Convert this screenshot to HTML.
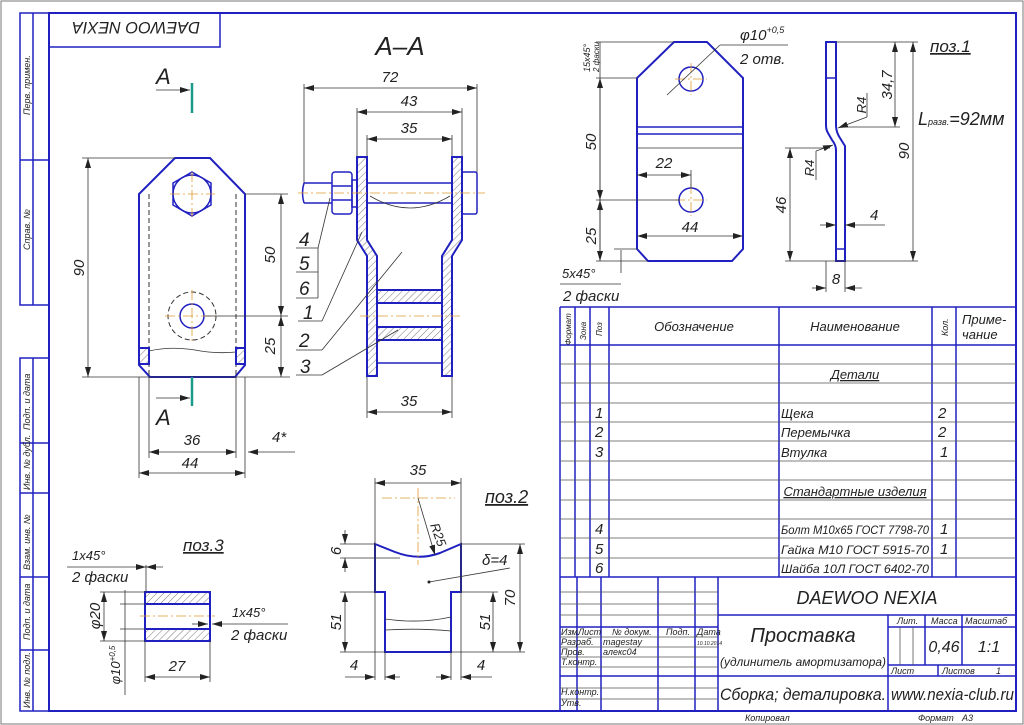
<!DOCTYPE html>
<html><head><meta charset="utf-8"><style>
html,body{margin:0;padding:0;background:#fff}
svg{display:block}
text{font-family:"Liberation Sans","DejaVu Sans",sans-serif;font-style:italic;fill:#222}
.o{stroke:#2020c0;stroke-width:2;fill:none}
.f{stroke:#2020c0;stroke-width:1.5;fill:none}
.d{stroke:#333;stroke-width:0.8;fill:none}
.c{stroke:#e09a30;stroke-width:0.8;fill:none;stroke-dasharray:10 3 2 3}
.h{stroke:#2020c0;stroke-width:2;fill:url(#hat)}
.dash{stroke:#333;stroke-width:1;fill:none;stroke-dasharray:5 3}
</style></head><body>
<svg width="1024" height="725" viewBox="0 0 1024 725" xmlns="http://www.w3.org/2000/svg">
<defs>
<pattern id="hat" width="5" height="5" patternUnits="userSpaceOnUse" patternTransform="rotate(45)"><line x1="0" y1="0" x2="0" y2="5" stroke="#555" stroke-width="0.8"/></pattern>
<marker id="a" viewBox="0 0 10 6" refX="10" refY="3" markerWidth="10" markerHeight="6" orient="auto-start-reverse" markerUnits="userSpaceOnUse"><path d="M0,0 L10,3 L0,6 z" fill="#222"/></marker>
</defs>
<rect x="1" y="1" width="1022" height="723" fill="#fff" stroke="#777" stroke-width="1"/>
<rect x="49" y="13" width="967" height="698" class="o"/>
<g class="f">
<rect x="20" y="13" width="29" height="292"/><line x1="33" y1="13" x2="33" y2="305"/><line x1="20" y1="160" x2="49" y2="160"/>
<rect x="20" y="358" width="29" height="353"/><line x1="33" y1="358" x2="33" y2="711"/>
<line x1="20" y1="443" x2="49" y2="443"/><line x1="20" y1="493" x2="49" y2="493"/><line x1="20" y1="577" x2="49" y2="577"/><line x1="20" y1="650" x2="49" y2="650"/>
<rect x="49" y="13" width="171" height="34"/>
</g>
<g font-size="9">
<text transform="translate(30,115) rotate(-90)">Перв. примен.</text>
<text transform="translate(30,250) rotate(-90)">Справ. №</text>
<text transform="translate(30,430) rotate(-90)">Подп. и дата</text>
<text transform="translate(30,490) rotate(-90)">Инв. № дубл.</text>
<text transform="translate(30,570) rotate(-90)">Взам. инв. №</text>
<text transform="translate(30,640) rotate(-90)">Подп. и дата</text>
<text transform="translate(30,708) rotate(-90)">Инв. № подл.</text>
</g>
<text transform="translate(200,22) rotate(180)" font-size="17" text-anchor="start" textLength="128" lengthAdjust="spacingAndGlyphs">DAEWOO NEXIA</text>

<path class="o" d="M175,158 L210,158 L245,194 L245,365 L235,377 L150,377 L139,365 L139,194 Z"/>
<polygon class="f" points="192,172 211,183 211,205 192,216 173,205 173,183"/>
<circle class="f" cx="192" cy="194" r="19"/>
<circle class="f" cx="192" cy="316" r="12"/>
<circle class="dash" cx="192" cy="316" r="24"/>
<line class="dash" x1="149" y1="194" x2="149" y2="377"/><line class="dash" x1="236" y1="194" x2="236" y2="377"/>
<path class="d" d="M149,351 Q170,346 195,350 Q215,354 236,352"/>
<rect x="139" y="348" width="10" height="16" class="h" stroke-width="0.8"/><rect x="236" y="348" width="9" height="16" class="h" stroke-width="0.8"/>
<line class="c" x1="165" y1="316" x2="220" y2="316"/><line class="c" x1="192" y1="290" x2="192" y2="343"/>
<line class="c" x1="170" y1="194" x2="215" y2="194"/><line class="c" x1="192" y1="172" x2="192" y2="216"/>
<g class="d">
<line x1="82" y1="158" x2="175" y2="158"/><line x1="82" y1="377" x2="290" y2="377"/>
<line x1="88" y1="158" x2="88" y2="377" marker-start="url(#a)" marker-end="url(#a)"/>
<line x1="245" y1="194" x2="288" y2="194"/><line x1="205" y1="316" x2="288" y2="316"/>
<line x1="281" y1="194" x2="281" y2="316" marker-start="url(#a)" marker-end="url(#a)"/>
<line x1="281" y1="316" x2="281" y2="377" marker-start="url(#a)" marker-end="url(#a)"/>
<line x1="149" y1="377" x2="149" y2="458"/><line x1="236" y1="377" x2="236" y2="458"/>
<line x1="139" y1="377" x2="139" y2="478"/><line x1="245" y1="377" x2="245" y2="478"/>
<line x1="149" y1="452" x2="236" y2="452" marker-start="url(#a)" marker-end="url(#a)"/>
<line x1="139" y1="473" x2="245" y2="473" marker-start="url(#a)" marker-end="url(#a)"/>
<line x1="248" y1="452" x2="295" y2="452" marker-start="url(#a)"/>
<line x1="156" y1="90" x2="190" y2="90" marker-end="url(#a)"/><line x1="156" y1="398" x2="190" y2="398" marker-end="url(#a)"/>
</g>
<line x1="192" y1="83" x2="192" y2="113" stroke="#1a9a8a" stroke-width="2.5"/>
<line x1="192" y1="377" x2="192" y2="406" stroke="#1a9a8a" stroke-width="2.5"/>
<text x="156" y="84" font-size="22" font-style="normal">A</text>
<text x="156" y="425" font-size="22" font-style="normal">A</text>
<g font-size="15">
<text transform="translate(84,268) rotate(-90)" text-anchor="middle">90</text>
<text transform="translate(275,255) rotate(-90)" text-anchor="middle">50</text>
<text transform="translate(275,346) rotate(-90)" text-anchor="middle">25</text>
<text x="192" y="445" text-anchor="middle">36</text>
<text x="190" y="468" text-anchor="middle">44</text>
<text x="272" y="442">4*</text>
</g>

<text x="400" y="55" font-size="26" font-style="normal" text-anchor="middle">A–A</text>
<g class="d">
<line x1="304" y1="84" x2="304" y2="185"/><line x1="477" y1="84" x2="477" y2="185"/>
<line x1="304" y1="88" x2="477" y2="88" marker-start="url(#a)" marker-end="url(#a)"/>
<line x1="357" y1="108" x2="357" y2="157"/><line x1="462" y1="108" x2="462" y2="157"/>
<line x1="357" y1="112" x2="462" y2="112" marker-start="url(#a)" marker-end="url(#a)"/>
<line x1="367" y1="135" x2="367" y2="157"/><line x1="452" y1="135" x2="452" y2="157"/>
<line x1="367" y1="139" x2="452" y2="139" marker-start="url(#a)" marker-end="url(#a)"/>
<line x1="367" y1="376" x2="367" y2="418"/><line x1="452" y1="376" x2="452" y2="418"/>
<line x1="367" y1="412" x2="452" y2="412" marker-start="url(#a)" marker-end="url(#a)"/>
</g>
<g font-size="15" text-anchor="middle"><text x="390" y="82">72</text><text x="409" y="106">43</text><text x="409" y="133">35</text><text x="409" y="406">35</text></g>
<path class="h" d="M357,157 L367,157 L367,240 L377,256 L377,376 L367,376 L367,256 L357,240 Z"/>
<path class="h" d="M452,157 L462,157 L462,240 L452,256 L452,376 L442,376 L442,256 L452,240 Z"/>
<rect class="h" x="377" y="290" width="65" height="13"/>
<rect class="h" x="377" y="327" width="65" height="13"/>
<line class="f" x1="377" y1="363" x2="442" y2="363"/>
<path class="f" d="M304,183 L332,183 M304,203 L332,203 M304,183 Q301,193 304,203"/>
<rect class="f" x="332" y="172" width="20" height="42" rx="3"/>
<line class="f" x1="332" y1="186" x2="352" y2="186"/><line class="f" x1="332" y1="200" x2="352" y2="200"/>
<rect class="f" x="352" y="180" width="5" height="27"/>
<line class="f" x1="367" y1="183" x2="452" y2="183"/><line class="f" x1="367" y1="203" x2="452" y2="203"/>
<rect class="f" x="462" y="172" width="15" height="42" rx="2"/>
<path class="d" d="M370,196 Q410,220 450,196"/>
<line class="c" x1="298" y1="193" x2="485" y2="193"/><line class="c" x1="360" y1="316" x2="460" y2="316"/>
<g class="d">
<line x1="296" y1="248" x2="318" y2="248"/><line x1="296" y1="272" x2="318" y2="272"/><line x1="296" y1="298" x2="318" y2="298"/>
<line x1="318" y1="298" x2="318" y2="248"/><line x1="318" y1="248" x2="330" y2="198"/>
<line x1="298" y1="321" x2="322" y2="321"/><line x1="322" y1="321" x2="362" y2="232"/>
<line x1="296" y1="350" x2="322" y2="350"/><line x1="322" y1="350" x2="402" y2="252"/>
<line x1="296" y1="375" x2="322" y2="375"/><line x1="322" y1="375" x2="398" y2="330"/>
</g>
<g font-size="19"><text x="299" y="246">4</text><text x="299" y="270">5</text><text x="299" y="295">6</text><text x="303" y="319">1</text><text x="299" y="347">2</text><text x="300" y="373">3</text></g>

<path class="o" d="M674,42 L707,42 L743,78 L743,249 L732,261 L648,261 L637,249 L637,78 Z"/>
<circle class="f" cx="691" cy="79" r="12"/><circle class="f" cx="691" cy="200" r="12"/>
<line class="f" x1="637" y1="127" x2="743" y2="127"/><line class="f" x1="637" y1="134" x2="743" y2="134"/><line class="d" x1="637" y1="148" x2="743" y2="148"/>
<line class="c" x1="675" y1="79" x2="707" y2="79"/><line class="c" x1="691" y1="63" x2="691" y2="95"/>
<line class="c" x1="675" y1="200" x2="707" y2="200"/><line class="c" x1="691" y1="184" x2="691" y2="216"/>
<g class="d">
<line x1="596" y1="42" x2="674" y2="42"/><line x1="596" y1="78" x2="637" y2="78"/><line x1="596" y1="200" x2="680" y2="200"/><line x1="596" y1="261" x2="648" y2="261"/>
<line x1="600" y1="42" x2="600" y2="261"/>
<line x1="600" y1="78" x2="600" y2="200" marker-start="url(#a)" marker-end="url(#a)"/>
<line x1="600" y1="200" x2="600" y2="261" marker-start="url(#a)" marker-end="url(#a)"/>
<line x1="637" y1="175" x2="691" y2="175" marker-start="url(#a)" marker-end="url(#a)"/><line x1="691" y1="170" x2="691" y2="188"/>
<line x1="637" y1="236" x2="743" y2="236" marker-start="url(#a)" marker-end="url(#a)"/>
<line x1="667" y1="95" x2="720" y2="45"/><line x1="720" y1="45" x2="788" y2="45"/>
<line x1="621" y1="250" x2="621" y2="273"/><line x1="614" y1="249" x2="637" y2="249"/><line x1="560" y1="284" x2="621" y2="284"/>
</g>
<g font-size="15">
<text x="740" y="40">φ10<tspan font-size="9" dy="-7">+0,5</tspan></text>
<text x="740" y="64">2 отв.</text>
<text transform="translate(596,142) rotate(-90)" text-anchor="middle">50</text>
<text transform="translate(596,236) rotate(-90)" text-anchor="middle">25</text>
<text x="664" y="168" text-anchor="middle">22</text>
<text x="690" y="232" text-anchor="middle">44</text>
<text x="562" y="278" font-size="13">5x45°</text>
<text x="563" y="301">2 фаски</text>
<text transform="translate(590,72) rotate(-90)" font-size="9">15x45°</text>
<text transform="translate(599,72) rotate(-90)" font-size="8">2 фаски</text>
</g>
<path class="o" d="M826,42 L836,42 L836,125 Q836,132 840,138 L845,146 L845,261 L836,261 L836,150 Q836,145 832,140 L828,133 Q826,130 826,125 Z"/>
<line class="f" x1="826" y1="78" x2="836" y2="78"/><line class="f" x1="836" y1="249" x2="845" y2="249"/>
<g class="d">
<line x1="836" y1="42" x2="918" y2="42"/><line x1="840" y1="127" x2="900" y2="127"/><line x1="785" y1="148" x2="830" y2="148"/><line x1="785" y1="261" x2="918" y2="261"/>
<line x1="895" y1="42" x2="895" y2="127" marker-start="url(#a)" marker-end="url(#a)"/>
<line x1="913" y1="42" x2="913" y2="261" marker-start="url(#a)" marker-end="url(#a)"/>
<line x1="790" y1="148" x2="790" y2="261" marker-start="url(#a)" marker-end="url(#a)"/>
<line x1="820" y1="225" x2="836" y2="225" marker-end="url(#a)"/><line x1="845" y1="225" x2="885" y2="225" marker-start="url(#a)"/>
<line x1="826" y1="261" x2="826" y2="292"/><line x1="845" y1="261" x2="845" y2="292"/>
<line x1="812" y1="288" x2="826" y2="288" marker-end="url(#a)"/><line x1="845" y1="288" x2="862" y2="288" marker-start="url(#a)"/>
<line x1="867" y1="93" x2="867" y2="117"/><line x1="867" y1="117" x2="838" y2="128" marker-end="url(#a)"/>
<line x1="816" y1="180" x2="816" y2="151"/><line x1="816" y1="151" x2="833" y2="145" marker-end="url(#a)"/>
</g>
<g font-size="15">
<text transform="translate(892,85) rotate(-90)" text-anchor="middle">34,7</text>
<text transform="translate(909,151) rotate(-90)" text-anchor="middle">90</text>
<text transform="translate(786,205) rotate(-90)" text-anchor="middle">46</text>
<text transform="translate(866,105) rotate(-90)" text-anchor="middle" font-size="13">R4</text>
<text transform="translate(814,168) rotate(-90)" text-anchor="middle" font-size="13">R4</text>
<text x="870" y="220">4</text>
<text x="836" y="284" text-anchor="middle">8</text>
<text x="930" y="52" font-size="17" text-decoration="underline">поз.1</text>
<text x="918" y="125" font-size="18">L<tspan font-size="9">разв.</tspan>=92мм</text>
</g>

<text x="183" y="551" font-size="17" text-decoration="underline">поз.3</text>
<rect class="h" x="145" y="592" width="65" height="12"/><rect class="h" x="145" y="629" width="65" height="12"/>
<rect class="o" x="145" y="592" width="65" height="49" rx="2"/>
<line class="c" x1="140" y1="616" x2="215" y2="616"/>
<g class="d">
<line x1="100" y1="592" x2="145" y2="592"/><line x1="100" y1="641" x2="145" y2="641"/>
<line x1="104" y1="592" x2="104" y2="641" marker-start="url(#a)" marker-end="url(#a)"/>
<line x1="120" y1="604" x2="145" y2="604"/><line x1="120" y1="629" x2="145" y2="629"/>
<line x1="125" y1="590" x2="125" y2="695"/>
<line x1="145" y1="641" x2="145" y2="682"/><line x1="210" y1="641" x2="210" y2="682"/>
<line x1="145" y1="677" x2="210" y2="677" marker-start="url(#a)" marker-end="url(#a)"/>
<line x1="146" y1="565" x2="146" y2="592"/>
<line x1="67" y1="567" x2="146" y2="567" marker-end="url(#a)"/><line x1="146" y1="567" x2="163" y2="567" marker-start="url(#a)"/>
<line x1="192" y1="624" x2="208" y2="624" marker-end="url(#a)"/><line x1="212" y1="624" x2="288" y2="624" marker-start="url(#a)"/>
</g>
<g font-size="15">
<text x="72" y="560" font-size="13">1x45°</text><text x="72" y="582">2 фаски</text>
<text x="232" y="617" font-size="13">1x45°</text><text x="231" y="640">2 фаски</text>
<text transform="translate(100,616) rotate(-90)" text-anchor="middle">φ20</text>
<text transform="translate(120,665) rotate(-90)" text-anchor="middle" font-size="13">φ10<tspan font-size="8" dy="-5">+0,5</tspan></text>
<text x="177" y="671" text-anchor="middle">27</text>
</g>

<path class="o" d="M375,544 Q385,548 395,552 Q418,561 440,553 L461,544 L461,592 L451,592 L451,652 L385,652 L385,592 L375,592 Z"/>
<path class="d" d="M385,619 Q420,624 451,617 M385,630 Q420,628 451,631"/>
<line class="c" x1="382" y1="498" x2="455" y2="498"/><line class="c" x1="418" y1="488" x2="418" y2="565"/>
<g class="d">
<line x1="375" y1="478" x2="375" y2="680"/><line x1="461" y1="478" x2="461" y2="680"/>
<line x1="375" y1="483" x2="461" y2="483" marker-start="url(#a)" marker-end="url(#a)"/>
<line x1="418" y1="498" x2="435" y2="555" marker-end="url(#a)"/>
<line x1="340" y1="544" x2="375" y2="544"/><line x1="340" y1="558" x2="400" y2="558"/>
<line x1="345" y1="530" x2="345" y2="544" marker-end="url(#a)"/><line x1="345" y1="558" x2="345" y2="572" marker-start="url(#a)"/>
<line x1="340" y1="592" x2="375" y2="592"/><line x1="340" y1="652" x2="385" y2="652"/>
<line x1="345" y1="592" x2="345" y2="652" marker-start="url(#a)" marker-end="url(#a)"/>
<line x1="461" y1="544" x2="525" y2="544"/><line x1="451" y1="652" x2="525" y2="652"/><line x1="461" y1="592" x2="498" y2="592"/>
<line x1="520" y1="544" x2="520" y2="652" marker-start="url(#a)" marker-end="url(#a)"/>
<line x1="493" y1="592" x2="493" y2="652" marker-start="url(#a)" marker-end="url(#a)"/>
<line x1="385" y1="652" x2="385" y2="680"/><line x1="451" y1="652" x2="451" y2="680"/>
<line x1="345" y1="677" x2="375" y2="677" marker-end="url(#a)"/><line x1="385" y1="677" x2="400" y2="677" marker-start="url(#a)"/>
<line x1="436" y1="677" x2="451" y2="677" marker-end="url(#a)"/><line x1="461" y1="677" x2="492" y2="677" marker-start="url(#a)"/>
<line x1="429" y1="582" x2="510" y2="568"/>
</g>
<circle cx="429" cy="582" r="1.5" fill="#222"/>
<g font-size="15">
<text x="418" y="475" text-anchor="middle">35</text>
<text x="485" y="503" font-size="18" text-decoration="underline">поз.2</text>
<text transform="translate(430,525) rotate(70)" font-size="13">R25</text>
<text x="482" y="565">δ=4</text>
<text transform="translate(341,551) rotate(-90)" text-anchor="middle">6</text>
<text transform="translate(341,622) rotate(-90)" text-anchor="middle">51</text>
<text transform="translate(490,622) rotate(-90)" text-anchor="middle">51</text>
<text transform="translate(515,598) rotate(-90)" text-anchor="middle">70</text>
<text x="354" y="670" text-anchor="middle">4</text>
<text x="481" y="670" text-anchor="middle">4</text>
</g>

<g class="f">
<line x1="560" y1="307" x2="1016" y2="307"/><line x1="560" y1="345" x2="1016" y2="345"/>
<line x1="560" y1="307" x2="560" y2="711"/>
<line x1="575" y1="307" x2="575" y2="577"/><line x1="590" y1="307" x2="590" y2="577"/><line x1="609" y1="307" x2="609" y2="577"/>
<line x1="779" y1="307" x2="779" y2="577"/><line x1="932" y1="307" x2="932" y2="577"/><line x1="956" y1="307" x2="956" y2="577"/>
<line x1="560" y1="577" x2="1016" y2="577"/>
</g>
<g stroke="#555" stroke-width="0.8">
<line x1="560" y1="364" x2="1016" y2="364"/><line x1="560" y1="383" x2="1016" y2="383"/><line x1="560" y1="403" x2="1016" y2="403"/>
<line x1="560" y1="422" x2="1016" y2="422"/><line x1="560" y1="441" x2="1016" y2="441"/><line x1="560" y1="461" x2="1016" y2="461"/>
<line x1="560" y1="480" x2="1016" y2="480"/><line x1="560" y1="500" x2="1016" y2="500"/><line x1="560" y1="519" x2="1016" y2="519"/>
<line x1="560" y1="538" x2="1016" y2="538"/><line x1="560" y1="558" x2="1016" y2="558"/>
</g>
<g font-size="13">
<text transform="translate(571,345) rotate(-90)" font-size="8">Формат</text>
<text transform="translate(586,340) rotate(-90)" font-size="8">Зона</text>
<text transform="translate(602,336) rotate(-90)" font-size="8">Поз</text>
<text x="694" y="331" text-anchor="middle">Обозначение</text>
<text x="855" y="331" text-anchor="middle">Наименование</text>
<text transform="translate(948,336) rotate(-90)" font-size="9">Кол.</text>
<text x="962" y="324">Приме-</text><text x="962" y="339">чание</text>
<text x="855" y="379" text-anchor="middle" text-decoration="underline">Детали</text>
<text x="595" y="418" font-size="15">1</text><text x="595" y="437" font-size="15">2</text><text x="595" y="457" font-size="15">3</text>
<text x="781" y="418">Щека</text><text x="781" y="437">Перемычка</text><text x="781" y="457">Втулка</text>
<text x="938" y="418" font-size="15">2</text><text x="938" y="437" font-size="15">2</text><text x="940" y="457" font-size="15">1</text>
<text x="855" y="496" text-anchor="middle" text-decoration="underline">Стандартные изделия</text>
<text x="595" y="534" font-size="15">4</text><text x="595" y="554" font-size="15">5</text><text x="595" y="573" font-size="15">6</text>
<text x="781" y="534" font-size="12" textLength="148" lengthAdjust="spacingAndGlyphs">Болт М10х65 ГОСТ 7798-70</text>
<text x="781" y="554" font-size="12" textLength="148" lengthAdjust="spacingAndGlyphs">Гайка М10 ГОСТ 5915-70</text>
<text x="781" y="573" font-size="12" textLength="148" lengthAdjust="spacingAndGlyphs">Шайба 10Л ГОСТ 6402-70</text>
<text x="940" y="534" font-size="15">1</text><text x="940" y="554" font-size="15">1</text>
</g>

<g class="f">
<line x1="577" y1="577" x2="577" y2="711"/><line x1="601" y1="577" x2="601" y2="711"/><line x1="658" y1="577" x2="658" y2="711"/>
<line x1="695" y1="577" x2="695" y2="711"/><line x1="718" y1="577" x2="718" y2="711"/>
<line x1="718" y1="615" x2="1016" y2="615"/><line x1="560" y1="627" x2="718" y2="627"/>
<line x1="888" y1="615" x2="888" y2="676"/><line x1="718" y1="676" x2="1016" y2="676"/>
<line x1="888" y1="627" x2="1016" y2="627"/><line x1="925" y1="615" x2="925" y2="665"/><line x1="962" y1="615" x2="962" y2="665"/>
<line x1="888" y1="665" x2="1016" y2="665"/><line x1="938" y1="665" x2="938" y2="676"/>
<line x1="888" y1="676" x2="888" y2="711"/><line x1="560" y1="676" x2="718" y2="676"/>
</g>
<g stroke="#555" stroke-width="0.8">
<line x1="560" y1="592" x2="718" y2="592"/><line x1="560" y1="604" x2="718" y2="604"/><line x1="560" y1="615" x2="718" y2="615"/>
<line x1="560" y1="637" x2="718" y2="637"/><line x1="560" y1="647" x2="718" y2="647"/><line x1="560" y1="657" x2="718" y2="657"/>
<line x1="560" y1="667" x2="718" y2="667"/><line x1="560" y1="688" x2="718" y2="688"/><line x1="560" y1="699" x2="718" y2="699"/>
<line x1="900" y1="627" x2="900" y2="665"/><line x1="913" y1="627" x2="913" y2="665"/>
</g>
<g font-size="9">
<text x="561" y="635">Изм.</text><text x="578" y="635">Лист</text><text x="612" y="635">№ докум.</text><text x="666" y="635">Подп.</text><text x="697" y="635">Дата</text>
<text x="561" y="645">Разраб.</text><text x="603" y="645">magestay</text><text x="697" y="645" font-size="5">10.10.2014</text>
<text x="561" y="655">Пров.</text><text x="603" y="655">алекс04</text>
<text x="561" y="665">Т.контр.</text>
<text x="561" y="695">Н.контр.</text><text x="561" y="706">Утв.</text>
<text x="897" y="624">Лит.</text><text x="931" y="624">Масса</text><text x="965" y="624">Масштаб</text>
<text x="891" y="674">Лист</text><text x="942" y="674">Листов</text><text x="996" y="674">1</text>
<text x="745" y="721">Копировал</text><text x="918" y="721">Формат</text><text x="962" y="721">А3</text>
</g>
<text x="867" y="604" font-size="18" text-anchor="middle">DAEWOO NEXIA</text>
<text x="803" y="642" font-size="20" text-anchor="middle">Проставка</text>
<text x="803" y="666" font-size="12" text-anchor="middle" textLength="166" lengthAdjust="spacingAndGlyphs">(удлинитель амортизатора)</text>
<text x="944" y="652" font-size="16" text-anchor="middle">0,46</text>
<text x="989" y="652" font-size="16" text-anchor="middle">1:1</text>
<text x="720" y="700" font-size="17" textLength="166" lengthAdjust="spacingAndGlyphs">Сборка; деталировка.</text>
<text x="891" y="700" font-size="17" textLength="123" lengthAdjust="spacingAndGlyphs">www.nexia-club.ru</text>
</svg>
</body></html>
